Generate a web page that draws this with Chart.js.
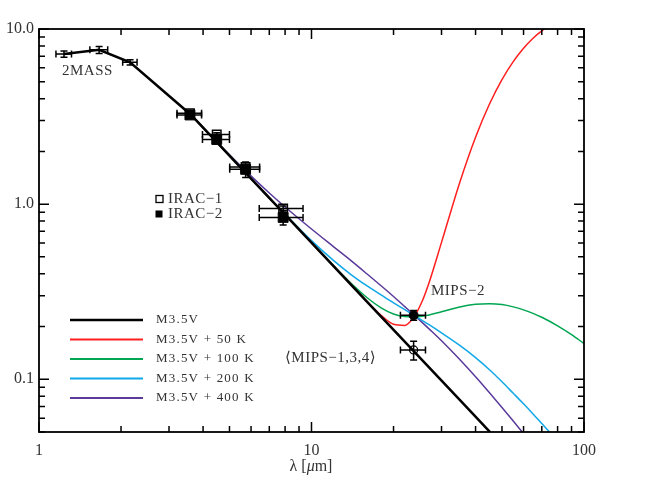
<!DOCTYPE html>
<html lang="en">
<head>
  <meta charset="UTF-8" />
  <title>M3.5V SED</title>
  <script src="https://cdn.jsdelivr.net/npm/chart.js"></script>
  <style>
    body { margin: 0; background: #fff; }
  </style>
</head>
<body>
  <canvas id="sed" width="665" height="490"></canvas>

  <script>
    // photosphere (black), starts at the 2MASS points
    const photLam  = [1.235, 1.662, 2.159, 3.6, 4.5, 5.8, 8, 12, 16, 24, 35, 50];
    const photFlux = [7.2, 7.6, 6.45, 3.25, 2.25, 1.48, 0.87, 0.446, 0.277, 0.142, 0.0762, 0.0423];

    // photosphere + 50 K
    const redLam  = [3.6, 5.8, 8, 12, 14, 16, 18, 20, 22, 23, 24, 25.5, 27, 30, 35, 40, 45, 50, 55, 60, 65, 70, 75];
    const redFlux = [3.25, 1.48, 0.87, 0.446, 0.346, 0.278, 0.232, 0.206, 0.203, 0.213, 0.232, 0.280, 0.356, 0.605, 1.33, 2.41, 3.73, 5.14, 6.51, 7.76, 8.86, 9.76, 10.49];

    // shared wavelength grid for the 100 / 200 / 400 K models
    const modelLam    = [3.6, 4.5, 5.8, 7, 8, 10, 12, 14, 16, 18, 20, 22, 24, 27, 30, 35, 40, 45, 50, 55, 60, 65, 70, 80, 90, 100];
    const greenFlux   = [3.25, 2.25, 1.48, 1.084, 0.87, 0.602, 0.447, 0.352, 0.292, 0.256, 0.236, 0.228, 0.227, 0.233, 0.243, 0.259, 0.268, 0.270, 0.267, 0.259, 0.249, 0.238, 0.226, 0.202, 0.180, 0.160];
    const blueFlux    = [3.25, 2.25, 1.48, 1.086, 0.876, 0.619, 0.479, 0.395, 0.341, 0.303, 0.273, 0.250, 0.230, 0.205, 0.184, 0.156, 0.133, 0.1134, 0.0968, 0.0832, 0.0724, 0.0634, 0.0559, 0.0443, 0.0355, 0.029];
    const purpleFlux  = [3.254, 2.266, 1.524, 1.157, 0.963, 0.721, 0.574, 0.474, 0.399, 0.342, 0.297, 0.260, 0.230, 0.194, 0.166, 0.1297, 0.1034, 0.0838, 0.0691, 0.0578, 0.0489, 0.0418, 0.036, null, null, null];

    // photometry
    const mass2Lam   = [1.235, 1.662, 2.159];
    const mass2Flux  = [7.2, 7.6, 6.45];
    const mass2dLam  = [0.081, 0.125, 0.131];
    const mass2dFlux = [0.3, 0.35, 0.22];

    const iracLam    = [3.58, 4.49, 5.73, 7.87];
    const iracdLam   = [0.37, 0.51, 0.72, 1.44];
    const irac1Flux  = [3.3, 2.50, 1.63, 0.945];
    const irac1dFlux = [0.05, 0.06, 0.06, 0.03];
    const irac2Flux  = [3.23, 2.34, 1.58, 0.84];
    const irac2dFlux = [0.06, 0.07, 0.16, 0.08];

    const mipsLam    = [23.7];
    const mipsdLam   = [2.5];
    const mips2Flux  = [0.232];
    const mips2dFlux = [0.015];
    const mips134Flux  = [0.147];
    const mips134dFlux = [0.018];

    const xMajor = [1, 10, 100];
    const yMajor = [0.1, 1, 10];

    const legendNames  = ['M3.5V', 'M3.5V + 50 K', 'M3.5V + 100 K', 'M3.5V + 200 K', 'M3.5V + 400 K'];
    const legendColors = ['#000000', '#ff1f1f', '#00a651', '#10a8e8', '#5a3a9a'];

    const SERIF = '"Liberation Serif", "DejaVu Serif", serif';
    const INK = '#333';

    const pts = (lam, flux) => lam.map((l, i) => ({ x: l, y: flux[i] }));

    function errBar(ctx, xs, ys, lam, flux, dLam, dFlux) {
      const cap = 3.5;
      const x = xs.getPixelForValue(lam), y = ys.getPixelForValue(flux);
      const x0 = xs.getPixelForValue(lam - dLam), x1 = xs.getPixelForValue(lam + dLam);
      const y0 = ys.getPixelForValue(flux - dFlux), y1 = ys.getPixelForValue(flux + dFlux);
      ctx.beginPath();
      ctx.moveTo(x0, y); ctx.lineTo(x1, y);
      ctx.moveTo(x0, y - cap); ctx.lineTo(x0, y + cap);
      ctx.moveTo(x1, y - cap); ctx.lineTo(x1, y + cap);
      ctx.moveTo(x, y0); ctx.lineTo(x, y1);
      ctx.moveTo(x - cap, y0); ctx.lineTo(x + cap, y0);
      ctx.moveTo(x - cap, y1); ctx.lineTo(x + cap, y1);
      ctx.stroke();
    }

    // frame with inward ticks, error bars, in-plot labels and legend
    const decorations = {
      id: 'decorations',
      afterDatasetsDraw(chart) {
        const { ctx, chartArea: a, scales: { x: xs, y: ys } } = chart;
        ctx.save();

        // error bars
        ctx.strokeStyle = '#000';
        ctx.lineWidth = 1.5;
        mass2Lam.forEach((l, i) => errBar(ctx, xs, ys, l, mass2Flux[i], mass2dLam[i], mass2dFlux[i]));
        iracLam.forEach((l, i) => {
          errBar(ctx, xs, ys, l, irac1Flux[i], iracdLam[i], irac1dFlux[i]);
          errBar(ctx, xs, ys, l, irac2Flux[i], iracdLam[i], irac2dFlux[i]);
        });
        errBar(ctx, xs, ys, mipsLam[0], mips2Flux[0], mipsdLam[0], mips2dFlux[0]);
        errBar(ctx, xs, ys, mipsLam[0], mips134Flux[0], mipsdLam[0], mips134dFlux[0]);

        // frame
        ctx.lineWidth = 1.8;
        ctx.strokeRect(a.left, a.top, a.right - a.left, a.bottom - a.top);

        // ticks
        ctx.lineWidth = 1.5;
        ctx.beginPath();
        [1, 10].forEach(d => {
          for (let k = 1; k <= 10; k++) {
            const v = k * d;
            if (v > 100) continue;
            const len = (k === 1 || k === 10) ? 10 : 6;
            const px = xs.getPixelForValue(v);
            ctx.moveTo(px, a.bottom); ctx.lineTo(px, a.bottom - len);
            ctx.moveTo(px, a.top); ctx.lineTo(px, a.top + len);
          }
        });
        [0.01, 0.1, 1].forEach(d => {
          for (let k = 1; k <= 10; k++) {
            const v = k * d;
            if (v < 0.05 - 1e-9 || v > 10 + 1e-9) continue;
            const len = (k === 1 || k === 10) ? 10 : 6;
            const py = ys.getPixelForValue(v);
            ctx.moveTo(a.left, py); ctx.lineTo(a.left + len, py);
            ctx.moveTo(a.right, py); ctx.lineTo(a.right - len, py);
          }
        });
        ctx.stroke();

        // labels
        ctx.fillStyle = INK;
        ctx.textBaseline = 'middle';
        ctx.textAlign = 'left';
        ctx.font = '15px ' + SERIF;
        ctx.letterSpacing = '0.5px';
        ctx.fillText('2MASS', 62, 71);
        ctx.fillText('IRAC\u22121', 168, 199);
        ctx.fillText('IRAC\u22122', 168, 214);
        ctx.fillText('MIPS\u22122', 431, 291);
        ctx.fillText('\u27E8MIPS\u22121,3,4\u27E9', 285, 358);

        // IRAC legend symbols
        ctx.strokeStyle = '#000';
        ctx.lineWidth = 1.3;
        ctx.strokeRect(156, 195.5, 7, 7);
        ctx.fillStyle = '#000';
        ctx.fillRect(155.5, 210.5, 7, 7);

        // model legend
        ctx.font = '13px ' + SERIF;
        ctx.letterSpacing = '1.2px';
        legendNames.forEach((name, i) => {
          const y = 320 + i * 19.5;
          ctx.strokeStyle = legendColors[i];
          ctx.lineWidth = i === 0 ? 2.5 : 2;
          ctx.beginPath();
          ctx.moveTo(70, y); ctx.lineTo(143, y);
          ctx.stroke();
          ctx.fillStyle = INK;
          ctx.fillText(name, 156, y);
        });

        // x axis title
        ctx.letterSpacing = '0px';
        ctx.fillStyle = INK;
        const t1 = '\u03BB [', t3 = 'm]';
        ctx.font = 'italic 16px ' + SERIF;
        const w2 = ctx.measureText('\u03BC').width;
        ctx.font = '16px ' + SERIF;
        const w1 = ctx.measureText(t1).width, w3 = ctx.measureText(t3).width;
        const x0 = 311 - (w1 + w2 + w3) / 2;
        ctx.fillText(t1, x0, 467);
        ctx.font = 'italic 16px ' + SERIF;
        ctx.fillText('\u03BC', x0 + w1, 467);
        ctx.font = '16px ' + SERIF;
        ctx.fillText(t3, x0 + w1 + w2, 467);

        ctx.restore();
      }
    };

    const curve = (lam, flux, color, width) => ({
      data: pts(lam, flux),
      showLine: true,
      borderColor: color,
      borderWidth: width,
      pointRadius: 0,
      cubicInterpolationMode: 'monotone',
      spanGaps: false
    });

    const tickFont = { family: SERIF, size: 16 };

    new Chart(document.getElementById('sed'), {
      type: 'scatter',
      data: {
        datasets: [
          { data: pts(iracLam, irac2Flux), pointStyle: 'rect', pointRadius: 7, backgroundColor: '#000', borderColor: '#000', borderWidth: 1 },
          { data: pts(iracLam, irac1Flux), pointStyle: 'rect', pointRadius: 6, backgroundColor: 'rgba(0,0,0,0)', borderColor: '#000', borderWidth: 1.5 },
          { data: pts(mipsLam, mips2Flux), pointStyle: 'circle', pointRadius: 4.5, backgroundColor: '#000', borderColor: '#000', borderWidth: 1 },
          { data: pts(mipsLam, mips134Flux), pointStyle: 'circle', pointRadius: 4, backgroundColor: 'rgba(0,0,0,0)', borderColor: '#000', borderWidth: 1.3 },
          Object.assign(curve(photLam, photFlux, legendColors[0], 2.5), { cubicInterpolationMode: 'default', tension: 0 }),
          curve(redLam, redFlux, legendColors[1], 1.5),
          curve(modelLam, greenFlux, legendColors[2], 1.5),
          curve(modelLam, blueFlux, legendColors[3], 1.5),
          curve(modelLam, purpleFlux, legendColors[4], 1.5)
        ]
      },
      options: {
        responsive: false,
        animation: false,
        layout: { padding: { top: 29, right: 81, left: 0, bottom: 0 } },
        plugins: { legend: { display: false }, tooltip: { enabled: false } },
        scales: {
          x: {
            type: 'logarithmic', min: 1, max: 100,
            afterFit: s => { s.height = 58; },
            afterBuildTicks: s => { s.ticks = xMajor.map(v => ({ value: v })); },
            grid: { display: false, drawTicks: false },
            border: { display: false },
            ticks: { padding: 9, color: INK, font: tickFont, maxRotation: 0, autoSkip: false, callback: v => String(v) }
          },
          y: {
            type: 'logarithmic', min: 0.05, max: 10,
            afterFit: s => { s.width = 39; },
            afterBuildTicks: s => { s.ticks = yMajor.map(v => ({ value: v })); },
            grid: { display: false, drawTicks: false },
            border: { display: false },
            ticks: { padding: 5, color: INK, font: tickFont, autoSkip: false, callback: v => (v >= 1 ? v.toFixed(1) : String(v)) }
          }
        }
      },
      plugins: [decorations]
    });
  </script>
</body>
</html>
